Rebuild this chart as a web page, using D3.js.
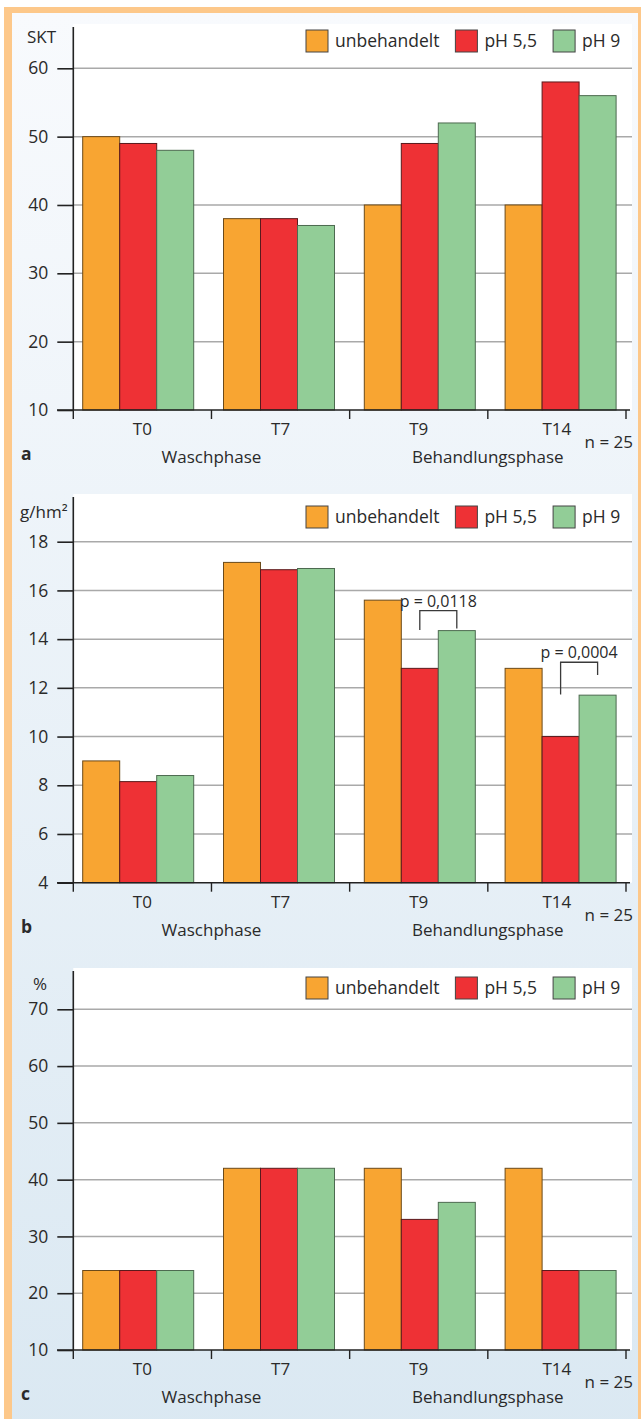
<!DOCTYPE html>
<html>
<head>
<meta charset="utf-8">
<script src="https://cdn.jsdelivr.net/npm/d3@7/dist/d3.min.js"></script>
<style>
  body { margin: 0; background: #fff; }
  svg { display: block; }
  text { font-family: "Open Sans", sans-serif; fill: #2a2a2a; }
</style>
</head>
<body>
<script>
// data
var categories = ['T0', 'T7', 'T9', 'T14'];
var seriesNames = ['unbehandelt', 'pH 5,5', 'pH 9'];
var seriesColors = ['#f8a532', '#ee3135', '#92cd97'];
var seriesStrokes = ['#6b4a1a', '#5a1a1c', '#4d6a50'];

var sktUnbehandelt = [50, 38, 40, 40];
var sktPh55 = [49, 38, 49, 58];
var sktPh9 = [48, 37, 52, 56];
var sktTicks = [10, 20, 30, 40, 50, 60];

var gUnbehandelt = [9.0, 17.15, 15.6, 12.8];
var gPh55 = [8.15, 16.85, 12.8, 10.0];
var gPh9 = [8.4, 16.9, 14.35, 11.7];
var gTicks = [4, 6, 8, 10, 12, 14, 16, 18];

var pctUnbehandelt = [24, 42, 42, 42];
var pctPh55 = [24, 42, 33, 24];
var pctPh9 = [24, 42, 36, 24];
var pctTicks = [10, 20, 30, 40, 50, 60, 70];

var pLabels = ['p = 0,0118', 'p = 0,0004'];
var pCategories = ['T9', 'T14'];
var pTop = [15.17, 13.05];
var pLeftEnd = [14.37, 11.73];
var pRightEnd = [14.44, 12.53];

var phaseLabels = ['Waschphase', 'Behandlungsphase'];

var width = 641, height = 1419;

var svg = d3.select('body').append('svg')
    .attr('width', width)
    .attr('height', height);

var defs = svg.append('defs');
var grad = defs.append('linearGradient')
    .attr('id', 'bg')
    .attr('x1', 0).attr('y1', 0).attr('x2', 0).attr('y2', 1);
grad.append('stop').attr('offset', '0%').attr('stop-color', '#f8fafd');
grad.append('stop').attr('offset', '100%').attr('stop-color', '#dae8f2');

// frame
svg.append('rect').attr('x', 4).attr('y', 7).attr('width', 660).attr('height', 1440).attr('fill', '#fdc88a');
svg.append('rect').attr('x', 12).attr('y', 13).attr('width', 626).attr('height', 1440).attr('fill', 'url(#bg)');

var panels = [
    { letter: 'a', unit: 'SKT', unitX: 27, unitY: 43, axisTop: 27, base: 410, topTick: 68.3,
      ticks: sktTicks, values: [sktUnbehandelt, sktPh55, sktPh9], legendTop: 30 },
    { letter: 'b', unit: 'g/hm²', unitX: 20, unitY: 518, axisTop: 497, base: 882.7, topTick: 541.7,
      ticks: gTicks, values: [gUnbehandelt, gPh55, gPh9], legendTop: 506, annot: true },
    { letter: 'c', unit: '%', unitX: 33, unitY: 990, axisTop: 971, base: 1350, topTick: 1009.3,
      ticks: pctTicks, values: [pctUnbehandelt, pctPh55, pctPh9], legendTop: 977 }
];

var axisX = 73.3, plotRight = 632;

var x = d3.scaleBand().domain(categories).range([axisX, 626]);
var xGroup = d3.scaleBand().domain(categories).range([82.7, 82.7 + 4 * 140.8]);
var xSeries = d3.scaleBand().domain(seriesNames).range([0, 111]);

panels.forEach(function(p) {
    var g = svg.append('g');
    var y = d3.scaleLinear()
        .domain([p.ticks[0], p.ticks[p.ticks.length - 1]])
        .range([p.base, p.topTick]);

    // white plot area
    g.append('rect')
        .attr('x', axisX).attr('y', p.axisTop - 3)
        .attr('width', plotRight - axisX).attr('height', p.base - p.axisTop + 3)
        .attr('fill', '#fff');

    // gridlines
    g.selectAll('.grid').data(p.ticks.slice(1)).enter().append('line')
        .attr('x1', axisX).attr('x2', plotRight)
        .attr('y1', d => y(d)).attr('y2', d => y(d))
        .attr('stroke', '#a9a9a9').attr('stroke-width', 1.5);

    // bars
    seriesNames.forEach(function(s, si) {
        g.selectAll('.bar' + si).data(p.values[si]).enter().append('rect')
            .attr('x', (d, i) => xGroup(categories[i]) + xSeries(s))
            .attr('y', d => y(d))
            .attr('width', xSeries.bandwidth())
            .attr('height', d => p.base - y(d))
            .attr('fill', seriesColors[si])
            .attr('stroke', seriesStrokes[si])
            .attr('stroke-width', 1);
    });

    // y axis
    var yAxis = d3.axisLeft(y).tickValues(p.ticks).tickSizeInner(16).tickSizeOuter(0).tickPadding(9);
    var ya = g.append('g').attr('transform', `translate(${axisX},0)`).call(yAxis);
    ya.select('.domain').remove();
    ya.selectAll('.tick line').attr('stroke', '#222').attr('stroke-width', 1.6);
    ya.selectAll('.tick text').attr('font-size', 17.5).attr('font-family', '"Open Sans", sans-serif').attr('fill', '#2a2a2a');
    g.append('line')
        .attr('x1', axisX).attr('x2', axisX)
        .attr('y1', p.axisTop).attr('y2', p.base)
        .attr('stroke', '#222').attr('stroke-width', 1.6);

    // x axis
    g.append('line')
        .attr('x1', 57).attr('x2', 630)
        .attr('y1', p.base).attr('y2', p.base)
        .attr('stroke', '#222').attr('stroke-width', 1.6);
    var bounds = categories.map(c => x(c)).concat([x.range()[1]]);
    g.selectAll('.xt').data(bounds).enter().append('line')
        .attr('x1', d => d).attr('x2', d => d)
        .attr('y1', p.base).attr('y2', p.base + 9)
        .attr('stroke', '#222').attr('stroke-width', 1.4);
    g.selectAll('.xl').data(categories).enter().append('text')
        .attr('x', d => x(d) + x.bandwidth() / 2)
        .attr('y', p.base + 25)
        .attr('text-anchor', 'middle')
        .attr('font-size', 17)
        .text(d => d);
    g.selectAll('.ph').data(phaseLabels).enter().append('text')
        .attr('x', (d, i) => x(categories[i * 2 + 1]))
        .attr('y', p.base + 53)
        .attr('text-anchor', 'middle')
        .attr('font-size', 17)
        .text(d => d);
    g.append('text')
        .attr('x', 633).attr('y', p.base + 38)
        .attr('text-anchor', 'end')
        .attr('font-size', 17)
        .text('n = 25');
    g.append('text')
        .attr('x', 21).attr('y', p.base + 50)
        .attr('font-size', 17.5).attr('font-weight', 'bold')
        .text(p.letter);

    // unit
    g.append('text')
        .attr('x', p.unitX).attr('y', p.unitY)
        .attr('font-size', 17)
        .text(p.unit);

    // legend
    var lx = 306;
    seriesNames.forEach(function(s, si) {
        g.append('rect')
            .attr('x', lx).attr('y', p.legendTop)
            .attr('width', 22).attr('height', 22)
            .attr('fill', seriesColors[si])
            .attr('stroke', '#444').attr('stroke-width', 1);
        var t = g.append('text')
            .attr('x', lx + 29).attr('y', p.legendTop + 17)
            .attr('font-size', 17.5)
            .text(s);
        lx += 29 + t.node().getComputedTextLength() + 16;
    });

    // significance brackets
    if (p.annot) {
        pLabels.forEach(function(lab, k) {
            var c = pCategories[k];
            var xl = xGroup(c) + xSeries('pH 5,5') + xSeries.bandwidth() / 2;
            var xr = xGroup(c) + xSeries('pH 9') + xSeries.bandwidth() / 2;
            g.append('path')
                .attr('d', `M${xl},${y(pLeftEnd[k])}V${y(pTop[k])}H${xr}V${y(pRightEnd[k])}`)
                .attr('fill', 'none').attr('stroke', '#3a3a3a').attr('stroke-width', 1.3);
            g.append('text')
                .attr('x', (xl + xr) / 2).attr('y', y(pTop[k]) - 4)
                .attr('text-anchor', 'middle')
                .attr('font-size', 16)
                .text(lab);
        });
    }
});
</script>
</body>
</html>
